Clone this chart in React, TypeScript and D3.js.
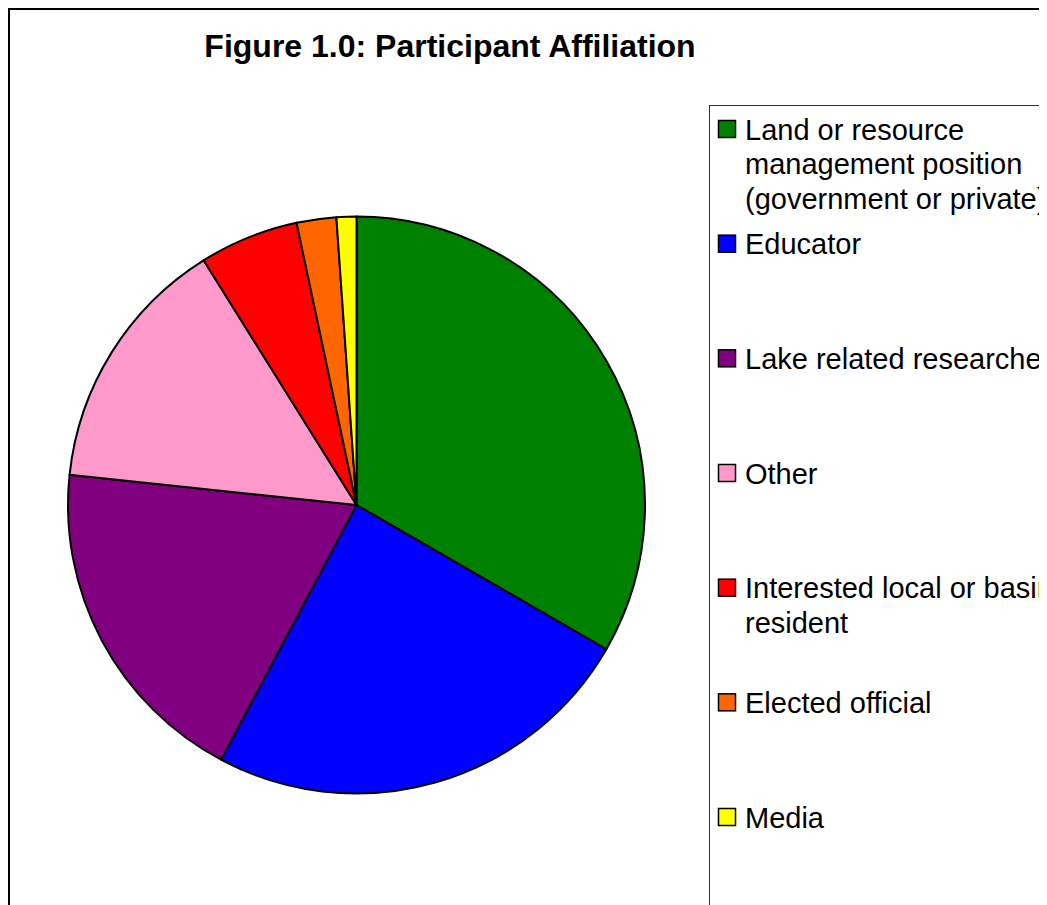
import React from "react";
import * as d3 from "d3";

const categories: string[][] = [
  ["Land or resource", "management position", "(government or private)"],
  ["Educator"],
  ["Lake related researcher"],
  ["Other"],
  ["Interested local or basin", "resident"],
  ["Elected official"],
  ["Media"],
];
const counts: number[] = [30, 22, 17, 13, 5, 2, 1];
const colors: string[] = ["#008000", "#0000FF", "#800080", "#FF99CC", "#FF0000", "#FF6600", "#FFFF00"];
const title = "Figure 1.0: Participant Affiliation";

export default function App() {
  React.useEffect(() => {
    document.documentElement.style.overflow = "hidden";
    document.body.style.overflow = "hidden";
  }, []);

  const cx = 356.5;
  const cy = 505;
  const r = 288.5;
  const pie = d3.pie<number>().sort(null).value((d) => d).startAngle(0).endAngle(2 * Math.PI);
  const arcs = pie(counts);
  const arc = d3.arc<d3.PieArcDatum<number>>().innerRadius(0).outerRadius(r);

  const legendY = d3.scaleLinear().domain([0, categories.length - 1]).range([138, 826]);
  const font = "'Liberation Sans', Arial, sans-serif";

  return (
    <svg width={1039} height={897} style={{ display: "block" }}>
      <g transform="translate(-8,-8)">
        <rect x={0} y={0} width={1100} height={1000} fill="#fff" />
        <rect x={9} y={9} width={1100} height={1000} fill="none" stroke="#000" strokeWidth={2} />
        <text x={450} y={57} textAnchor="middle" fontFamily={font} fontWeight="bold" fontSize={32} fill="#000">
          {title}
        </text>
        <g transform={`translate(${cx},${cy})`}>
          {arcs.map((a, i) => (
            <path key={i} d={arc(a) || ""} fill={colors[i]} stroke="#000" strokeWidth={2} strokeLinejoin="round" />
          ))}
        </g>
        <rect x={709.5} y={105.5} width={500} height={900} fill="none" stroke="#333" strokeWidth={1} />
        {categories.map((lines, i) => {
          const by = legendY(i);
          return (
            <g key={i}>
              <rect x={718.5} y={by - 17.5} width={17} height={17} fill={colors[i]} stroke="#000" strokeWidth={1.5} />
              <text x={745} y={by + 1.5} fontFamily={font} fontSize={29} fill="#000">
                {lines.map((l, j) => (
                  <tspan key={j} x={745} dy={j === 0 ? 0 : 34.5}>
                    {l}
                  </tspan>
                ))}
              </text>
            </g>
          );
        })}
      </g>
    </svg>
  );
}
